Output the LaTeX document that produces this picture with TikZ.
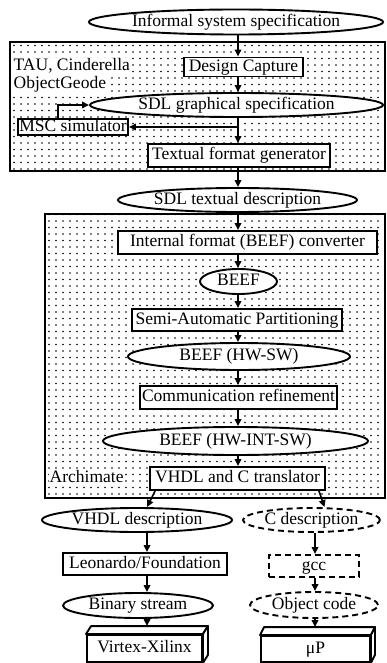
\documentclass[tikz,border=0pt]{standalone}
\usepackage{fontspec}
\setmainfont{Liberation Serif}
\usetikzlibrary{shapes.geometric,arrows.meta,patterns,calc}
\pgfdeclarepatternformonly{sparsedots}{\pgfqpoint{-1pt}{-1pt}}{\pgfqpoint{1pt}{1pt}}{\pgfqpoint{7pt}{6.5pt}}{\pgfpathcircle{\pgfqpoint{0pt}{0pt}}{0.85pt}\pgfusepath{fill}}
\begin{document}
\begin{tikzpicture}[x=1pt,y=-1pt,
  txt/.style={font=\fontsize{17.5}{20}\selectfont, text height=12pt, text depth=3.5pt, inner sep=0pt},
  ell/.style={txt, ellipse, draw, line width=1.9pt, fill=white},
  boxn/.style={txt, rectangle, draw, line width=1.9pt, fill=white},
  dsh/.style={dash pattern=on 6pt off 4pt},
  arr/.style={-{Triangle[length=7pt,width=6.5pt]}, line width=1.6pt},
  region/.style={draw, line width=1.9pt, pattern=sparsedots},
  lab/.style={txt, fill=white, inner sep=0.5pt, anchor=west},
  face/.style={draw, line width=1.9pt, fill=white, line join=round}
]
\useasboundingbox (0,0) rectangle (386,663);

% dotted tool regions
\draw[region] (10,42) rectangle (385,171);
\draw[region] (45,214) rectangle (385,498);

% labels
\node[lab] (tau) at (13,66) {TAU, Cinderella};
\node[lab] (og) at (13,84) {ObjectGeode};
\node[lab] (archi) at (49,478) {Archimate};

% main flow
\node[ell, minimum width=292pt, minimum height=25pt] (inf) at (236,22) {Informal system specification};
\node[boxn, minimum width=119pt, minimum height=19pt] (dc) at (243.5,67) {Design Capture};
\node[ell, minimum width=293pt, minimum height=24pt] (sdlg) at (236.5,105) {SDL graphical specification};
\node[boxn, minimum width=110pt, minimum height=16pt] (msc) at (73,127) {MSC simulator};
\node[boxn, minimum width=182pt, minimum height=23pt] (tfg) at (239,155.5) {Textual format generator};
\node[ell, minimum width=239pt, minimum height=24pt] (sdlt) at (237.5,200) {SDL textual description};
\node[boxn, minimum width=259pt, minimum height=23pt] (ifc) at (247.5,242.5) {Internal format (BEEF) converter};
\node[ell, minimum width=77pt, minimum height=25pt] (beef) at (238.5,281.5) {BEEF};
\node[boxn, minimum width=210pt, minimum height=22pt] (sap) at (237,320) {Semi-Automatic Partitioning};
\node[ell, minimum width=222pt, minimum height=27pt] (bhs) at (239,356.5) {BEEF (HW-SW)};
\node[boxn, minimum width=197pt, minimum height=23pt] (cr) at (238.5,397.5) {Communication refinement};
\node[ell, minimum width=265pt, minimum height=28pt] (bhis) at (235.5,441) {BEEF (HW-INT-SW)};
\node[boxn, minimum width=175pt, minimum height=23pt] (vct) at (237.5,478.5) {VHDL and C translator};

% hardware / software branches
\node[ell, minimum width=190pt, minimum height=24pt] (vhdl) at (137,520) {VHDL description};
\node[ell, dsh, minimum width=137pt, minimum height=24pt] (cdesc) at (311.5,520) {C description};
\node[boxn, minimum width=164pt, minimum height=22pt] (leo) at (145,564) {Leonardo/Foundation};
\node[boxn, dsh, minimum width=90pt, minimum height=22pt] (gcc) at (314,566) {gcc};
\node[ell, minimum width=150pt, minimum height=25pt] (bin) at (138,605.5) {Binary stream};
\node[ell, dsh, minimum width=128pt, minimum height=26pt] (obj) at (314,605) {Object code};
\node[boxn, minimum width=115pt, minimum height=27pt] (virtex) at (144.5,648.5) {Virtex-Xilinx};
\node[boxn, minimum width=109pt, minimum height=26pt] (up) at (315.5,649) {μP};

% 3D faces of the devices
\draw[face] (virtex.north west) -- ++(5,-8) -- ($(virtex.north east)+(5,-8)$) -- (virtex.north east) -- cycle;
\draw[face] (virtex.north east) -- ++(5,-8) -- ($(virtex.south east)+(5,-8)$) -- (virtex.south east) -- cycle;
\draw[face] (up.north west) -- ++(4,-8) -- ($(up.north east)+(4,-8)$) -- (up.north east) -- cycle;
\draw[face] (up.north east) -- ++(4,-8) -- ($(up.south east)+(4,-8)$) -- (up.south east) -- cycle;
\coordinate (vtop) at ($(virtex.north)+(0,-8)$);
\coordinate (uptop) at ($(up.north)+(0,-8)$);

% connectors
\coordinate (sp) at (238,0);
\coordinate (lc) at (147,0);
\coordinate (rc) at (315,0);
\draw[arr] (inf.south -| sp) -- (dc.north -| sp);
\draw[arr] (dc.south -| sp) -- (sdlg.north -| sp);
\draw[arr] (sdlg.south -| sp) -- (tfg.north -| sp);
\draw[arr] (msc.east -| sp) -- (msc.east);
\draw[arr] ([xshift=-15pt]msc.north) |- (sdlg.west);
\draw[arr] (tfg.south -| sp) -- (sdlt.north -| sp);
\draw[arr] (sdlt.south -| sp) -- (ifc.north -| sp);
\draw[arr] (ifc.south -| sp) -- (beef.north -| sp);
\draw[arr] (beef.south -| sp) -- (sap.north -| sp);
\draw[arr] (sap.south -| sp) -- (bhs.north -| sp);
\draw[arr] (bhs.south -| sp) -- (cr.north -| sp);
\draw[arr] (cr.south -| sp) -- (bhis.north -| sp);
\draw[arr] (bhis.south -| sp) -- (vct.north -| sp);
\draw[arr] ([xshift=6pt]vct.south west) -- ([xshift=10pt]vhdl.north);
\draw[arr] ([xshift=-7pt]vct.south east) -- ([xshift=13pt]cdesc.north);
\draw[arr] (vhdl.south -| lc) -- (leo.north -| lc);
\draw[arr] (leo.south -| lc) -- (bin.north -| lc);
\draw[arr] (bin.south -| lc) -- (vtop -| lc);
\draw[arr] (cdesc.south -| rc) -- (gcc.north -| rc);
\draw[arr] (gcc.south -| rc) -- (obj.north -| rc);
\draw[arr] (obj.south -| rc) -- (uptop -| rc);
\end{tikzpicture}
\end{document}
